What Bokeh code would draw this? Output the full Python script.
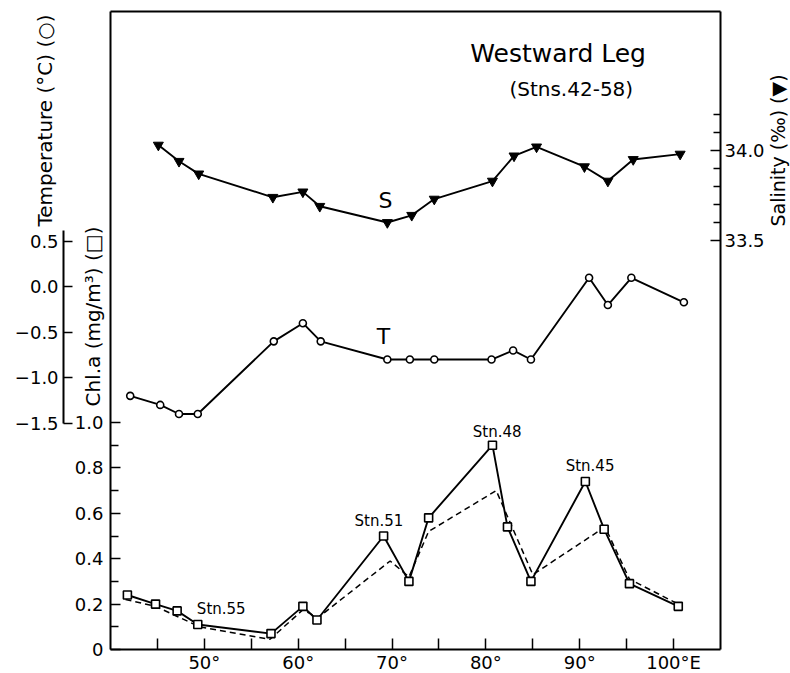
import math
from bokeh.plotting import figure
from bokeh.models import Range1d, LinearAxis, FixedTicker, Label
from bokeh.embed import file_html
from bokeh.resources import INLINE

# ---------------- data ----------------
# Salinity (per mille), filled inverted triangles
sal_lon = [45.1, 47.3, 49.4, 57.3, 60.5, 62.3, 69.5, 72.1, 74.5, 80.7, 83.0, 85.4, 90.5, 93.0, 95.7, 100.7]
sal_val = [34.03, 33.94, 33.87, 33.74, 33.77, 33.69, 33.60, 33.64, 33.73, 33.83, 33.97, 34.02, 33.91, 33.83, 33.95, 33.98]

# Temperature (deg C), open circles
temp_lon = [42.1, 45.3, 47.3, 49.3, 57.4, 60.5, 62.4, 69.5, 71.9, 74.5, 80.6, 82.9, 84.8, 91.0, 93.0, 95.5, 101.1]
temp_val = [-1.2, -1.3, -1.4, -1.4, -0.6, -0.4, -0.6, -0.8, -0.8, -0.8, -0.8, -0.7, -0.8, 0.1, -0.2, 0.1, -0.17]

# Chl.a (mg/m3), open squares, solid line
chl_lon = [41.8, 44.8, 47.1, 49.3, 57.1, 60.5, 62.0, 69.1, 71.8, 73.9, 80.7, 82.3, 84.8, 90.6, 92.6, 95.3, 100.5]
chl_val = [0.24, 0.20, 0.17, 0.11, 0.07, 0.19, 0.13, 0.50, 0.30, 0.58, 0.90, 0.54, 0.30, 0.74, 0.53, 0.29, 0.19]

# Chl.a, dashed line (no markers)
chld_lon = [41.6, 44.8, 49.5, 57.0, 60.5, 62.1, 69.8, 71.8, 73.9, 81.1, 85.0, 92.7, 95.3, 100.5]
chld_val = [0.22, 0.19, 0.10, 0.045, 0.175, 0.14, 0.39, 0.32, 0.52, 0.70, 0.33, 0.54, 0.31, 0.20]

# ticks
x_ticks = [50, 60, 70, 80, 90, 100]
x_minor = [45, 55, 65, 75, 85, 95]
x_labels = ["50°", "60°", "70°", "80°", "90°", "100°E"]
chl_ticks = [0.0, 0.2, 0.4, 0.6, 0.8, 1.0]
chl_minor = [0.1, 0.3, 0.5, 0.7, 0.9]
chl_labels = ["0", "0.2", "0.4", "0.6", "0.8", "1.0"]
temp_ticks = [-1.5, -1.0, -0.5, 0.0, 0.5]
temp_labels = ["−1.5", "−1.0", "−0.5", "0.0", "0.5"]
sal_ticks = [33.5, 34.0]
sal_minor = [33.6, 33.7, 33.8, 33.9, 34.1, 34.2]
sal_labels = ["33.5", "34.0"]

# station annotations (text, lon, chl)
stn_text = ["Stn.55", "Stn.51", "Stn.48", "Stn.45"]
stn_lon = [51.8, 68.6, 81.2, 91.1]
stn_chl = [0.18, 0.568, 0.956, 0.81]

# extent of the plotted box, in data units
LON0, LON1 = 40, 105
CHL_TOP = 2.8106
TEMP_AXIS_LON = 35.0

FONT = "DejaVu Sans"
TICK_FS = "18px"
W, H = 790, 673

p = figure(width=W, height=H, x_range=Range1d(28.279, 112.459), y_range=Range1d(-0.1057, 2.859),
           output_backend="svg", toolbar_location=None,
           min_border_left=0, min_border_right=0, min_border_top=0, min_border_bottom=0,
           background_fill_color="white", border_fill_color="white")
p.extra_y_ranges = {"temp": Range1d(-4.258, 3.154), "sal": Range1d(31.0944, 34.8333)}
p.xgrid.visible = False
p.ygrid.visible = False
p.outline_line_color = None


def style(ax, tick_in, minor_in, standoff):
    ax.major_tick_in = tick_in
    ax.major_tick_out = 0
    ax.minor_tick_in = minor_in
    ax.minor_tick_out = 0
    ax.major_tick_line_width = 1.5
    ax.minor_tick_line_width = 1.5
    ax.axis_line_width = 2
    ax.axis_line_color = "black"
    ax.major_tick_line_color = "black"
    ax.minor_tick_line_color = "black"
    ax.major_label_standoff = standoff
    ax.major_label_text_font = FONT
    ax.major_label_text_font_size = TICK_FS
    ax.major_label_text_color = "black"


# ---- x axis (bottom edge of the box)
xa = p.xaxis[0]
xa.ticker = FixedTicker(ticks=x_ticks, minor_ticks=x_minor)
xa.major_label_overrides = dict(zip(x_ticks, x_labels))
xa.fixed_location = 0
xa.bounds = (LON0, LON1)
style(xa, 11, 11, 2)

# ---- top edge of the box
ta_top = LinearAxis(ticker=FixedTicker(ticks=[], minor_ticks=[]), fixed_location=CHL_TOP,
                    bounds=(LON0, LON1))
style(ta_top, 0, 0, 0)
p.add_layout(ta_top, "above")

# ---- chl axis (left edge of the box)
ca = p.yaxis[0]
ca.ticker = FixedTicker(ticks=chl_ticks, minor_ticks=chl_minor)
ca.major_label_overrides = dict(zip(chl_ticks, chl_labels))
ca.fixed_location = LON0
ca.bounds = (0, CHL_TOP)
style(ca, 10, 8, 7)

# ---- temperature axis (separate, further left)
ta = LinearAxis(y_range_name="temp", ticker=FixedTicker(ticks=temp_ticks, minor_ticks=[]),
                bounds=(-1.5, 0.62), fixed_location=TEMP_AXIS_LON)
ta.major_label_overrides = dict(zip(temp_ticks, temp_labels))
style(ta, 9, 0, 5)
p.add_layout(ta, "left")

# ---- salinity axis (right edge of the box)
sa = LinearAxis(y_range_name="sal", ticker=FixedTicker(ticks=sal_ticks, minor_ticks=sal_minor),
                bounds=(31.228, 34.772), fixed_location=LON1)
sa.major_label_overrides = dict(zip(sal_ticks, sal_labels))
style(sa, 10, 7, 4)
p.add_layout(sa, "right")

# ---------------- glyphs ----------------
p.line(chld_lon, chld_val, line_color="black", line_width=1.5, line_dash="6 4")
p.line(chl_lon, chl_val, line_color="black", line_width=1.9)
p.scatter(chl_lon, chl_val, marker="square", size=8, fill_color="white", line_color="black", line_width=1.6)

p.line(temp_lon, temp_val, y_range_name="temp", line_color="black", line_width=1.9)
p.scatter(temp_lon, temp_val, y_range_name="temp", marker="circle", size=7,
          fill_color="white", line_color="black", line_width=1.6)

p.line(sal_lon, sal_val, y_range_name="sal", line_color="black", line_width=1.9)
p.scatter(sal_lon, sal_val, y_range_name="sal", marker="inverted_triangle", size=10,
          fill_color="black", line_color="black")

# ---------------- texts ----------------
for t, x, y in zip(stn_text, stn_lon, stn_chl):
    p.add_layout(Label(x=x, y=y, text=t, text_align="center", text_baseline="middle",
                       text_font=FONT, text_font_size="15px", text_color="black"))

p.add_layout(Label(x=69.3, y=33.72, y_range_name="sal", text="S", text_align="center",
                   text_baseline="middle", text_font=FONT, text_font_size="22px", text_color="black"))
p.add_layout(Label(x=69.1, y=-0.546, y_range_name="temp", text="T", text_align="center",
                   text_baseline="middle", text_font=FONT, text_font_size="22px", text_color="black"))

p.add_layout(Label(x=87.7, y=2.626, text="Westward Leg", text_align="center",
                   text_baseline="middle", text_font=FONT, text_font_size="25px", text_color="black"))
p.add_layout(Label(x=89.1, y=2.471, text="(Stns.42-58)", text_align="center",
                   text_baseline="middle", text_font=FONT, text_font_size="20px", text_color="black"))

# axis titles (screen units; the frame fills the whole canvas)
p.add_layout(Label(x=44, y=553, x_units="screen", y_units="screen", text="Temperature (°C) (○)",
                   angle=math.pi / 2, text_align="center", text_baseline="middle",
                   text_font=FONT, text_font_size="20px", text_color="black"))
p.add_layout(Label(x=92, y=357, x_units="screen", y_units="screen", text="Chl.a (mg/m³) (□)",
                   angle=math.pi / 2, text_align="center", text_baseline="middle",
                   text_font=FONT, text_font_size="20px", text_color="black"))
p.add_layout(Label(x=777, y=523, x_units="screen", y_units="screen", text="Salinity (‰) (▼)",
                   angle=math.pi / 2, text_align="center", text_baseline="middle",
                   text_font=FONT, text_font_size="19px", text_color="black"))

open("out.html", "w").write(file_html(p, INLINE))
